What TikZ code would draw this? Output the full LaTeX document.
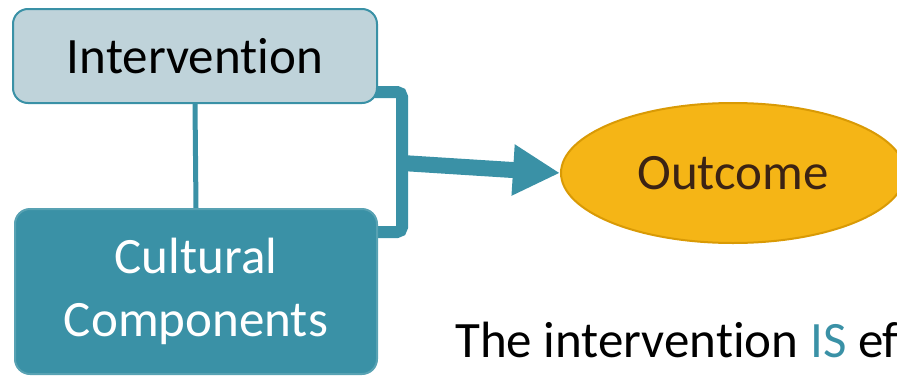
\documentclass[tikz,border=0pt]{standalone}
\usepackage{fontspec}
\setmainfont[Ligatures=NoCommon]{Carlito}
\usetikzlibrary{arrows.meta,shapes.geometric,backgrounds,calc}
\definecolor{tealc}{HTML}{3A91A6}
\definecolor{lightbox}{HTML}{BFD3DA}
\definecolor{gold}{HTML}{F5B516}
\definecolor{golddark}{HTML}{D99A05}
\definecolor{brownt}{HTML}{3B2314}
\begin{document}
\begin{tikzpicture}[x=1pt,y=-1pt,
  bigfont/.style={font=\fontsize{51}{63}\selectfont},
  introbox/.style={draw=tealc,line width=2pt,fill=lightbox,rounded corners=15pt,minimum width=364pt,minimum height=94pt,inner sep=0pt,bigfont,text=black},
  cultbox/.style={draw=tealc!85!white,line width=2pt,fill=tealc,rounded corners=15pt,minimum width=362pt,minimum height=165pt,inner sep=0pt,bigfont,text=white,align=center},
  outbox/.style={ellipse,draw=golddark,line width=2pt,fill=gold,minimum width=344pt,minimum height=140pt,inner sep=0pt,bigfont,text=brownt},
  thinline/.style={draw=tealc,line width=5pt},
  bracketline/.style={draw=tealc,line width=12pt,rounded corners=5pt},
  bigarrow/.style={draw=tealc,line width=16pt,-{Triangle[length=47pt,width=48pt]}}]
\useasboundingbox (0,0) rectangle (897,378);
\clip (0,0) rectangle (897,378);
\node[introbox] (int) at (195,56) {Intervention};
\node[cultbox] (cul) at (196,291.5) {Cultural\\Components};
\node[outbox] (out) at (733,173) {Outcome};
\node[bigfont,anchor=base west,inner sep=0pt] (txt) at (455,357) {The intervention \textcolor{tealc}{IS} ef};
\coordinate (bt) at (402,92);
\coordinate (bb) at (402,232);
\coordinate (bm) at (402,163);
\begin{scope}[on background layer]
\draw[thinline] (int.south) -- (cul.north);
\draw[bracketline] ([xshift=-8pt,yshift=12pt]int.south east) -- (bt) -- (bb) -- ([xshift=-8pt,yshift=-24pt]cul.north east);
\draw[bigarrow] (bm) -- (out.west);
\end{scope}
\end{tikzpicture}
\end{document}
